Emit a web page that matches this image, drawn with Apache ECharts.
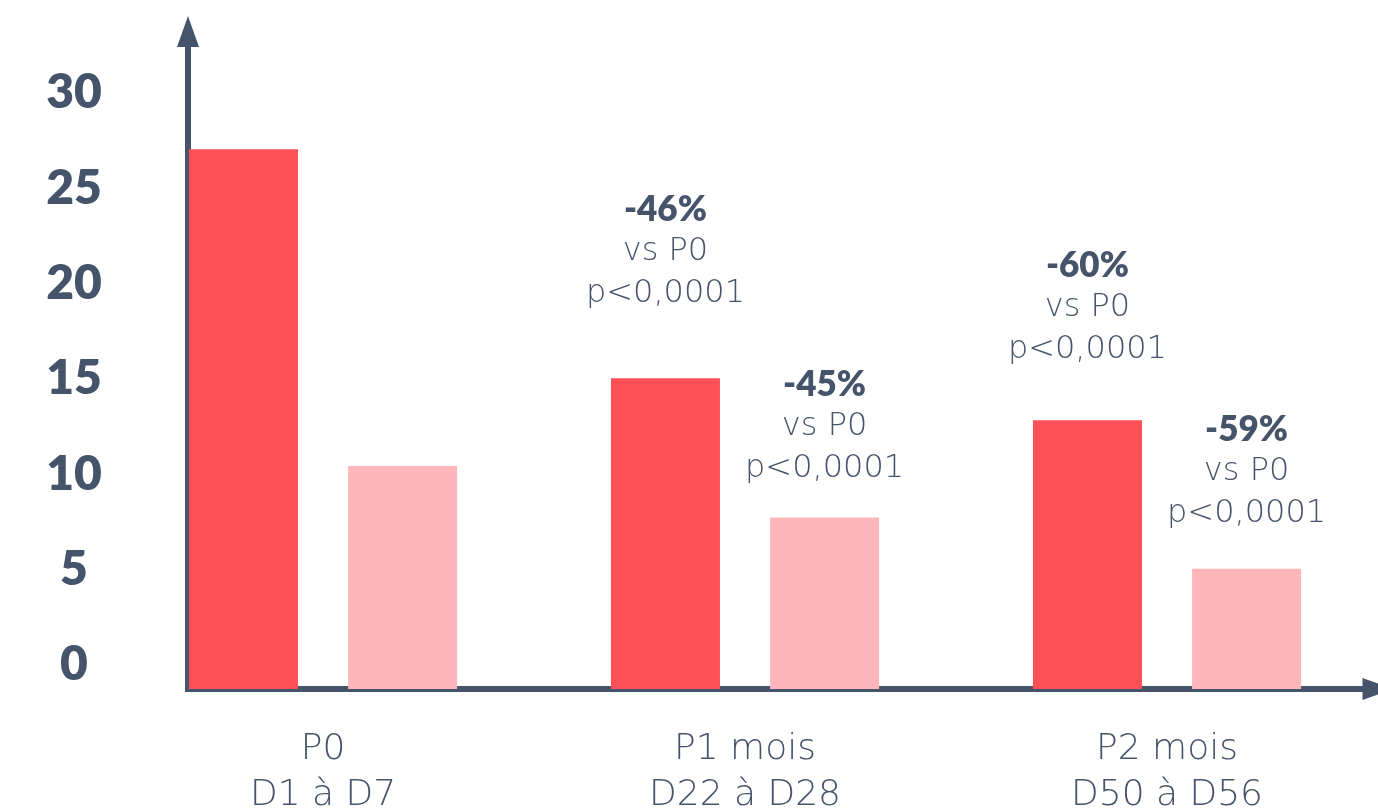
<!DOCTYPE html>
<html>
<head>
<meta charset="utf-8">
<script src="https://cdn.jsdelivr.net/npm/echarts@6/dist/echarts.min.js"></script>
<style>
  html, body { margin: 0; padding: 0; background: #fff; }
  #chart { width: 1378px; height: 812px; }
</style>
</head>
<body>
<div id="chart"></div>
<script>
const categories = ['P0\nD1 à D7', 'P1 mois\nD22 à D28', 'P2 mois\nD50 à D56']
const yTicks = [0, 5, 10, 15, 20, 25, 30]

const darkValues = [28.3, 16.3, 14.1]
const lightValues = [11.7, 9.0, 6.3]

const darkChange = [null, '-46%', '-60%']
const lightChange = [null, '-45%', '-59%']
const pValue = 'p<0,0001'
const reference = 'vs P0'

// gap between bar top and its note, px
const darkNoteGap = [0, 63, 49]
const lightNoteGap = [0, 28, 34]

const INK = '#45546a'
const THIN = 'DejaVu Sans'

function buildData(values, changes, gaps) {
  return values.map((v, i) => ({
    value: [i, v],
    label: changes[i]
      ? { show: true, distance: gaps[i], formatter: `{b|${changes[i]}}\n{t|${reference}}\n{t|${pValue}}` }
      : { show: false }
  }))
}

const noteLabel = {
  position: 'top',
  align: 'center',
  rich: {
    b: { fontFamily: 'Lato', fontWeight: 800, fontSize: 35, color: INK, lineHeight: 42 },
    t: { fontFamily: THIN, fontWeight: 200, fontSize: 32, color: INK, lineHeight: 42 }
  }
}

const chart = echarts.init(document.getElementById('chart'), null, { renderer: 'canvas' })

chart.setOption({
  animation: false,
  grid: { left: 188, right: 0, top: 31.5, bottom: 123, outerBoundsMode: 'none' },
  xAxis: {
    type: 'value',
    min: -0.32,
    max: 2.5,
    splitLine: { show: false },
    axisTick: { show: false },
    axisLine: {
      show: true,
      onZero: false,
      symbol: ['none', 'triangle'],
      symbolSize: [22, 31],
      lineStyle: { color: INK, width: 6, cap: 'square' }
    },
    axisLabel: {
      customValues: [0, 1, 2],
      formatter: v => categories[v] || '',
      color: INK,
      fontFamily: THIN,
      fontWeight: 200,
      fontSize: 36,
      lineHeight: 46,
      margin: 38
    }
  },
  yAxis: {
    type: 'value',
    min: 0,
    max: 34.48,
    splitLine: { show: false },
    axisTick: { show: false },
    axisLine: {
      show: true,
      onZero: false,
      symbol: ['none', 'triangle'],
      symbolSize: [22, 31],
      lineStyle: { color: INK, width: 6, cap: 'square' }
    },
    axisLabel: {
      customValues: yTicks,
      color: INK,
      fontFamily: 'Lato',
      fontWeight: 800,
      fontSize: 48,
      lineHeight: 48,
      align: 'center',
      verticalAlign: 'bottom',
      margin: 114
    }
  },
  series: [
    {
      name: 'dark',
      type: 'bar',
      barWidth: 109,
      barGap: '46%',
      itemStyle: { color: '#ff4f57' },
      label: noteLabel,
      data: buildData(darkValues, darkChange, darkNoteGap),
      z: 1
    },
    {
      name: 'light',
      type: 'bar',
      barWidth: 109,
      barGap: '46%',
      itemStyle: { color: '#ffb6ba' },
      label: noteLabel,
      data: buildData(lightValues, lightChange, lightNoteGap),
      z: 1
    }
  ]
})
</script>
</body>
</html>
